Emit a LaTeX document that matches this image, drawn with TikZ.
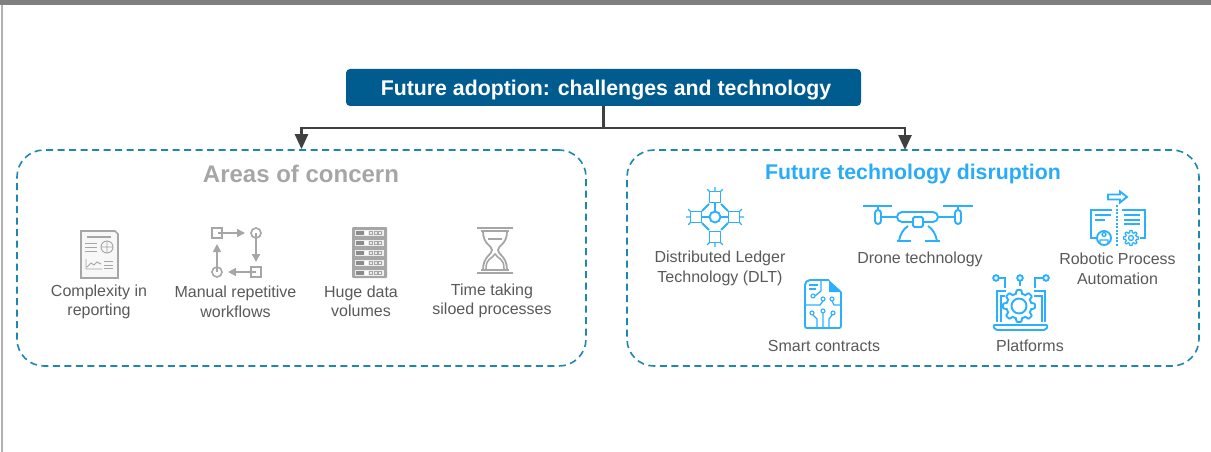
\documentclass[tikz,border=0pt]{standalone}
\usepackage{fontspec}
\setmainfont{Liberation Sans}
\usetikzlibrary{arrows.meta}
\definecolor{titleblue}{HTML}{005B8E}
\definecolor{dashblue}{HTML}{1F86B0}
\definecolor{techblue}{HTML}{29ABF8}
\definecolor{iconblue}{HTML}{2BB0FF}
\definecolor{icongray}{HTML}{A6A6A6}
\definecolor{labelgray}{HTML}{595959}
\definecolor{linegray}{HTML}{404040}
\tikzset{
    panel/.style={draw=dashblue,line width=1.6pt,dash pattern=on 7pt off 4.5pt,rounded corners=27pt,minimum height=216pt},
    label/.style={text=labelgray,font=\fontsize{16}{19.5}\selectfont,align=center,inner sep=0pt},
    flowline/.style={draw=linegray,line width=2.5pt},
    grayicon/.style={draw=icongray,line width=1.6pt},
    blueicon/.style={draw=iconblue,line width=1.9pt},
}
\newcommand{\geartrace}[5]{% x, y, inner radius, tooth height, style
    \draw[#5,shift={(#1,#2)}] plot[domain=0:360,samples=121,variable=\t]
        (\t:{#3+#4*0.5+#4*0.5*max(-1,min(1,2.4*cos(8*\t)))}) -- cycle;
}
\begin{document}
\begin{tikzpicture}[x=1pt,y=-1pt]
    \useasboundingbox (0,0) rectangle (1211,452);
    % window edges
    \fill[black!50] (0,0) rectangle (1211,5.5);
    \fill[black!30] (1,5.5) rectangle (3,452);

    % title and panels
    \node[fill=titleblue,text=white,rounded corners=4pt,minimum width=515pt,minimum height=37pt,inner sep=0pt] (title) at (603.5,87.5) {};
    \node[text=white,font=\fontsize{21.3}{24}\selectfont\bfseries,inner sep=0pt] (titletext) at (606,90.5) {Future adoption: challenges and technology};
    \node[panel,minimum width=569pt] (areas) at (301.5,258) {};
    \node[panel,minimum width=572pt] (disruption) at (913,258) {};
    \node[text=icongray,font=\fontsize{24}{26}\selectfont\bfseries,inner sep=0pt] (areashead) at (301,174) {Areas of concern};
    \node[text=techblue,font=\fontsize{21.3}{26}\selectfont\bfseries,inner sep=0pt] (disrupthead) at (913,174) {Future technology disruption};

    % connectors
    \coordinate (fork) at (603.5,128);
    \coordinate (disruptdrop) at (905,150);
    \draw[flowline] (title.south) -- (fork);
    \draw[flowline,-{Triangle[length=15pt,width=13pt]}] (fork) -| (areas.north);
    \draw[flowline,-{Triangle[length=15pt,width=13pt]}] (fork) -| (disruptdrop);

    % labels
    \node[label] (complexity) at (99,302) {Complexity in\\reporting};
    \node[label] (manual) at (235.5,302) {Manual repetitive\\workflows};
    \node[label] (huge) at (361,301.5) {Huge data\\volumes};
    \node[label] (timetaking) at (492,301) {Time taking\\siloed processes};
    \node[label] (dlt) at (720,268.5) {Distributed Ledger\\Technology (DLT)};
    \node[label] (drone) at (920,259.5) {Drone technology};
    \node[label] (rpa) at (1117.5,269) {Robotic Process\\Automation};
    \node[label] (smart) at (824,346) {Smart contracts};
    \node[label] (platforms) at (1030,345.5) {Platforms};

    % report icon
    \draw[grayicon,fill=black!3] (81,231) -- (115,231) -- (118,234) -- (118,278) -- (81,278) -- cycle;
    \draw[icongray,line width=1.4pt] (87,237) -- (111,237);
    \foreach \y in {243,247,251} {
        \draw[icongray,line width=.9pt] (85,\y) -- (97,\y);
    }
    \draw[icongray,line width=.9pt] (107,247) circle (6) (101,247) -- (113,247) (107,241) -- (107,253);
    \draw[icongray,line width=.9pt] (86,259) -- (86,269) -- (102,269) (87,267) -- (91,263) -- (94,265) -- (97,262) -- (101,264);
    \foreach \y in {261,265,268} {
        \draw[icongray,line width=.9pt] (104,\y) -- (113,\y);
    }

    % workflow icon
    \draw[grayicon] (212,228) rectangle (222,238) (251,267) rectangle (261,277);
    \draw[grayicon] (256,233) circle (5) (217,272) circle (5);
    \draw[grayicon,-{Triangle[length=8pt,width=8pt]}] (218,233) -- (245,233);
    \draw[grayicon,-{Triangle[length=8pt,width=8pt]}] (256,233) -- (256,262);
    \draw[grayicon,-{Triangle[length=8pt,width=8pt]}] (256,272) -- (228,272);
    \draw[grayicon,-{Triangle[length=8pt,width=8pt]}] (217,272) -- (217,244);

    % server icon
    \fill[icongray,rounded corners=1pt] (352,227) rectangle (387,278);
    \foreach \y in {230,240,250,260,270} {
        \fill[white!80!icongray] (355,\y) rectangle (384,\y+6);
        \fill[black!45] (356,\y+1) rectangle (364,\y+5);
        \fill[white] (365,\y+1) rectangle (368,\y+5);
        \draw[icongray,line width=.7pt] (369.5,\y+1.5) rectangle (372.5,\y+4.5) (374,\y+1.5) rectangle (377,\y+4.5) (378.5,\y+1.5) rectangle (381.5,\y+4.5);
    }

    % hourglass icon
    \draw[icongray,line width=2pt] (477,228) -- (513,228) (477,273) -- (513,273);
    \draw[grayicon] (481,231) -- (509,231) (481,270) -- (509,270);
    \draw[icongray,line width=1.8pt] (483,231) .. controls (483,245) and (492,245) .. (492,250) .. controls (492,255) and (483,256) .. (483,270);
    \draw[icongray,line width=1.8pt] (507,231) .. controls (507,245) and (498,245) .. (498,250) .. controls (498,255) and (507,256) .. (507,270);
    \draw[grayicon] (488,239) -- (502,239) (486,269) .. controls (486,258) and (491,260) .. (495,254) .. controls (499,260) and (504,258) .. (504,269);

    % ledger icon
    \foreach \cx/\cy/\dir in {715/197/270,715/237/90,696/217/180,734/217/0} {
        \draw[blueicon] (\cx-5.5,\cy-5.5) rectangle (\cx+5.5,\cy+5.5);
        \draw[blueicon,line width=1.3pt,shift={(\cx,\cy)}] (\dir:5.5) -- (\dir:10) (\dir+45:7.8) -- (\dir+45:11) (\dir-45:7.8) -- (\dir-45:11);
    }
    \draw[blueicon] (715,217) circle (5.5) (701.5,217) -- (709.5,217) (720.5,217) -- (728.5,217) (715,202.5) -- (715,211.5);
    \draw[blueicon] (709,204) -- (702,211) (721,204) -- (728,211) (702,223) -- (709,230) (728,223) -- (721,230);

    % drone icon
    \draw[blueicon] (863,206) -- (892,206) (943,206) -- (973,206);
    \draw[blueicon] (878,206) -- (878,210) (958,206) -- (958,210);
    \draw[blueicon,rounded corners=3pt] (875,210) rectangle (881,224) (955,210) rectangle (961,224);
    \draw[blueicon] (881,217) -- (897,217) (938,217) -- (955,217);
    \draw[blueicon,rounded corners=5pt] (913,222) -- (897,222) -- (897,212) -- (938,212) -- (938,222) -- (923,222);
    \draw[blueicon,rounded corners=1.5pt] (913,217) rectangle (923,227);
    \draw[blueicon] (908,226) .. controls (903,229) and (900,235) .. (899,241) (928,226) .. controls (933,229) and (936,235) .. (937,241);
    \draw[blueicon] (897,241) -- (911,241) (925,241) -- (940,241);

    % contract icon
    \draw[blueicon,rounded corners=2pt] (829,280) -- (808,280) -- (805,283) -- (805,328) -- (841,328) -- (841,292);
    \fill[iconblue] (829,280) -- (842,292) -- (829,292) -- cycle;
    \draw[blueicon,line width=1.3pt] (809,285) -- (818,285) (809,289) -- (816,289);
    \draw[blueicon,line width=1.3pt] (821,281) -- (821,291) -- (815,296);
    \draw[blueicon,line width=1.1pt] (813,296) circle (2);
    \draw[blueicon,line width=1.3pt] (806,305) -- (820,305) -- (823,301) (841,305) -- (834,305) -- (832,301);
    \draw[blueicon,line width=1.1pt] (823,299) circle (2) (832,299) circle (2) (812,313) circle (2) (823,311) circle (2) (833,313) circle (2);
    \draw[blueicon,line width=1.3pt] (823,313) -- (823,328) (813,315) -- (817,319) -- (817,328) (832,315) -- (829,319) -- (829,328);

    % platform icon
    \draw[blueicon] (1001,322) -- (1001,296) -- (1005,296) (1034,296) -- (1042,296) -- (1042,322);
    \draw[blueicon] (997,322) -- (997,291) -- (1006,291) (1034,291) -- (1045,291) -- (1045,322);
    \draw[blueicon,rounded corners=2pt] (993,325) -- (1048,325) -- (1046,330) -- (995,330) -- cycle;
    \geartrace{1019}{306}{12.5}{3.5}{blueicon}
    \draw[blueicon] (1019,306) circle (7.5);
    \draw[blueicon] (996,278) circle (2.8) (1020,278) circle (2.8) (1046,278) circle (2.8);
    \draw[blueicon] (999,278) -- (1005,278) -- (1005,288) (1020,281) -- (1020,286) (1043,278) -- (1035,278) -- (1035,288);

    % process icon
    \draw[blueicon] (1108,194.5) -- (1120,194.5) -- (1120,191.5) -- (1127,197) -- (1120,202.5) -- (1120,199.5) -- (1108,199.5) -- cycle;
    \draw[blueicon,dash pattern=on 2pt off 1.5pt] (1117,205) -- (1117,246);
    \draw[blueicon] (1096,238) -- (1091,238) -- (1091,210) -- (1112,210) (1122,210) -- (1145,210) -- (1145,238) -- (1140,238);
    \draw[blueicon] (1095,215) -- (1111,215) (1095,220) -- (1105,220) (1124,215) -- (1140,215) (1124,220) -- (1140,220) (1124,224) -- (1140,224);
    \draw[blueicon] (1104,238) circle (7);
    \draw[blueicon,line width=1.3pt] (1104,234.5) circle (2) (1100,243) -- (1100,240) -- (1108,240) -- (1108,243);
    \geartrace{1131}{238}{5.5}{2}{blueicon,line width=1.3pt}
    \draw[blueicon,line width=1.3pt] (1131,238) circle (2.5);
\end{tikzpicture}
\end{document}
